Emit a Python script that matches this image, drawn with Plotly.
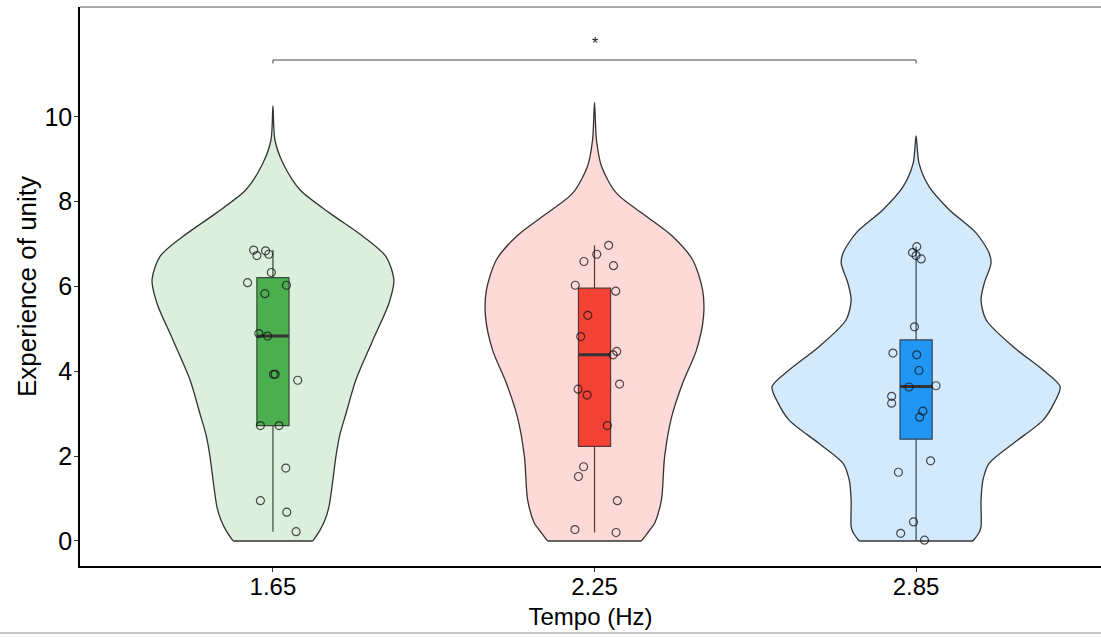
import plotly.graph_objects as go

# ---------------- data ----------------
categories = ["1.65", "2.25", "2.85"]
box_colors = ["#4CAF50", "#F44336", "#2196F3"]
violin_fills = ["rgba(76,175,80,0.2)", "rgba(244,67,54,0.2)", "rgba(33,150,243,0.2)"]

# individual observations (value) and horizontal jitter (category units)
green_values = [6.86, 6.73, 6.84, 6.76, 6.33, 6.09, 6.03, 5.83, 4.89, 4.83, 3.93, 3.93, 3.79, 2.72, 2.72, 1.72, 0.95, 0.68, 0.22]
green_jitter = [-0.060, -0.050, -0.023, -0.013, -0.005, -0.079, 0.042, -0.025, -0.044, -0.017, 0.002, 0.007, 0.077, -0.039, 0.019, 0.040, -0.039, 0.043, 0.072]
red_values = [6.97, 6.76, 6.59, 6.49, 6.03, 5.89, 5.32, 4.82, 4.47, 4.39, 3.58, 3.70, 3.44, 2.72, 1.75, 1.52, 0.95, 0.27, 0.20]
red_jitter = [0.044, 0.007, -0.033, 0.059, -0.060, 0.066, -0.021, -0.043, 0.069, 0.058, -0.051, 0.078, -0.023, 0.040, -0.034, -0.050, 0.071, -0.061, 0.067]
blue_values = [6.94, 6.80, 6.73, 6.65, 5.05, 4.43, 4.39, 4.02, 3.63, 3.66, 3.41, 3.25, 3.06, 2.92, 1.89, 1.62, 0.45, 0.18, 0.02]
blue_jitter = [0.002, -0.011, 0.000, 0.016, -0.005, -0.072, 0.002, 0.009, -0.022, 0.062, -0.076, -0.076, 0.021, 0.011, 0.045, -0.055, -0.008, -0.048, 0.026]

# box statistics
box_low = [0.22, 0.20, 0.02]
box_q1 = [2.72, 2.23, 2.40]
box_median = [4.83, 4.39, 3.64]
box_q3 = [6.21, 5.96, 4.74]
box_high = [6.86, 6.97, 6.94]

# violin density profiles: level (y) and half-width (category units)
green_levels = [0, 0.25, 0.5, 0.8, 1.3, 2.0, 2.5, 3.0, 3.8, 4.74, 5.61, 6.16, 6.71, 7.18, 7.73, 8.28, 8.91, 9.46, 10.26]
green_half = [0.124, 0.146, 0.162, 0.174, 0.184, 0.196, 0.208, 0.227, 0.258, 0.311, 0.361, 0.376, 0.351, 0.280, 0.177, 0.084, 0.031, 0.006, 0.0]
red_levels = [0, 0.25, 0.42, 0.97, 1.99, 2.93, 3.72, 4.50, 5.29, 5.92, 6.63, 7.18, 7.65, 8.20, 8.83, 9.46, 10.34]
red_half = [0.146, 0.171, 0.187, 0.208, 0.218, 0.240, 0.274, 0.317, 0.339, 0.336, 0.305, 0.243, 0.162, 0.068, 0.022, 0.006, 0.0]
blue_levels = [0, 0.2, 0.34, 0.97, 1.44, 1.83, 2.30, 2.85, 3.25, 3.64, 4.03, 4.58, 5.21, 5.68, 6.08, 6.55, 6.79, 7.26, 7.81, 8.36, 8.91, 9.55]
blue_half = [0.177, 0.196, 0.202, 0.202, 0.208, 0.227, 0.302, 0.395, 0.429, 0.448, 0.395, 0.302, 0.218, 0.202, 0.212, 0.233, 0.227, 0.187, 0.103, 0.040, 0.009, 0.0]

# significance comparison
sig_groups = (0, 2)
sig_height = 11.34
sig_tick = 0.08
sig_label = "*"

values = [green_values, red_values, blue_values]
jitters = [green_jitter, red_jitter, blue_jitter]
levels = [green_levels, red_levels, blue_levels]
halves = [green_half, red_half, blue_half]

BOX_W = 0.1
OUTLINE = "#333333"

fig = go.Figure()

# violins: smooth sides (open path, filled), flat bottom drawn separately
for i in range(3):
    lv, hw = levels[i], halves[i]
    xs = [i + h for h in hw] + [i - h for h in reversed(hw[:-1])]
    ys = list(lv) + list(reversed(lv[:-1]))
    fig.add_trace(go.Scatter(
        x=xs, y=ys, mode="lines", fill="toself", fillcolor=violin_fills[i],
        line=dict(color=OUTLINE, width=1.3, shape="spline", smoothing=0.8),
        hoverinfo="skip", showlegend=False))
    fig.add_trace(go.Scatter(
        x=[i - hw[0], i + hw[0]], y=[lv[0], lv[0]], mode="lines",
        line=dict(color=OUTLINE, width=1.3), hoverinfo="skip", showlegend=False))

# boxes
for i in range(3):
    fig.add_trace(go.Box(
        x=[i], q1=[box_q1[i]], median=[box_median[i]], q3=[box_q3[i]],
        lowerfence=[box_low[i]], upperfence=[box_high[i]],
        width=BOX_W, fillcolor=box_colors[i],
        line=dict(color=OUTLINE, width=1.2), whiskerwidth=0,
        boxpoints=False, showlegend=False, hoverinfo="skip"))
    # thicker median line
    fig.add_trace(go.Scatter(
        x=[i - BOX_W / 2, i + BOX_W / 2], y=[box_median[i]] * 2, mode="lines",
        line=dict(color=OUTLINE, width=3), showlegend=False, hoverinfo="skip"))

# jittered points
for i in range(3):
    fig.add_trace(go.Scatter(
        x=[i + j for j in jitters[i]], y=values[i], mode="markers",
        marker=dict(size=8, color="rgba(0,0,0,0)",
                    line=dict(color="rgba(20,20,20,0.75)", width=1.2)),
        showlegend=False, hoverinfo="skip"))

# significance bracket
a, b = sig_groups
fig.add_trace(go.Scatter(
    x=[a, a, b, b], y=[sig_height - sig_tick, sig_height, sig_height, sig_height - sig_tick],
    mode="lines", line=dict(color="#444444", width=1), showlegend=False, hoverinfo="skip"))
fig.add_annotation(x=(a + b) / 2, y=sig_height + 0.38, text=sig_label, showarrow=False,
                   font=dict(size=16, color="#222222", family="Liberation Sans"))

FONT = "Liberation Sans, Arial, sans-serif"
fig.update_layout(
    width=1101, height=637,
    margin=dict(l=80, r=0, t=7, b=71),
    paper_bgcolor="white", plot_bgcolor="white",
    font=dict(family=FONT, color="black"),
    hovermode=False,
    xaxis=dict(range=[-0.6, 2.575], tickvals=[0, 1, 2], ticktext=categories,
               showgrid=False, zeroline=False, showline=True, linecolor="black", linewidth=1.5,
               ticks="outside", ticklen=4, tickcolor="#333333", automargin=False,
               ticklabelstandoff=-6,
               tickfont=dict(size=24, color="black"),
               title=dict(text="Tempo (Hz)", font=dict(size=24, color="black"), standoff=10)),
    yaxis=dict(range=[-0.59, 12.59], tickvals=[0, 2, 4, 6, 8, 10],
               showgrid=False, zeroline=False, showline=True, linecolor="black", linewidth=1.5,
               ticks="outside", ticklen=4, tickcolor="#333333", automargin=False,
               ticklabelstandoff=-3,
               tickfont=dict(size=25, color="black"),
               title=dict(text="Experience of unity", font=dict(size=26, color="black"), standoff=0)),
    shapes=[
        dict(type="line", xref="paper", yref="paper", x0=0, x1=1, y0=1, y1=1,
             line=dict(color="#555555", width=1.2)),
        dict(type="line", xref="paper", yref="paper", x0=-0.08, x1=1, y0=-0.12, y1=-0.12,
             line=dict(color="#c8c8c8", width=2)),
    ],
)

fig.write_html("out.html", config={"displayModeBar": False},
               post_script="document.body.style.margin='0';")
